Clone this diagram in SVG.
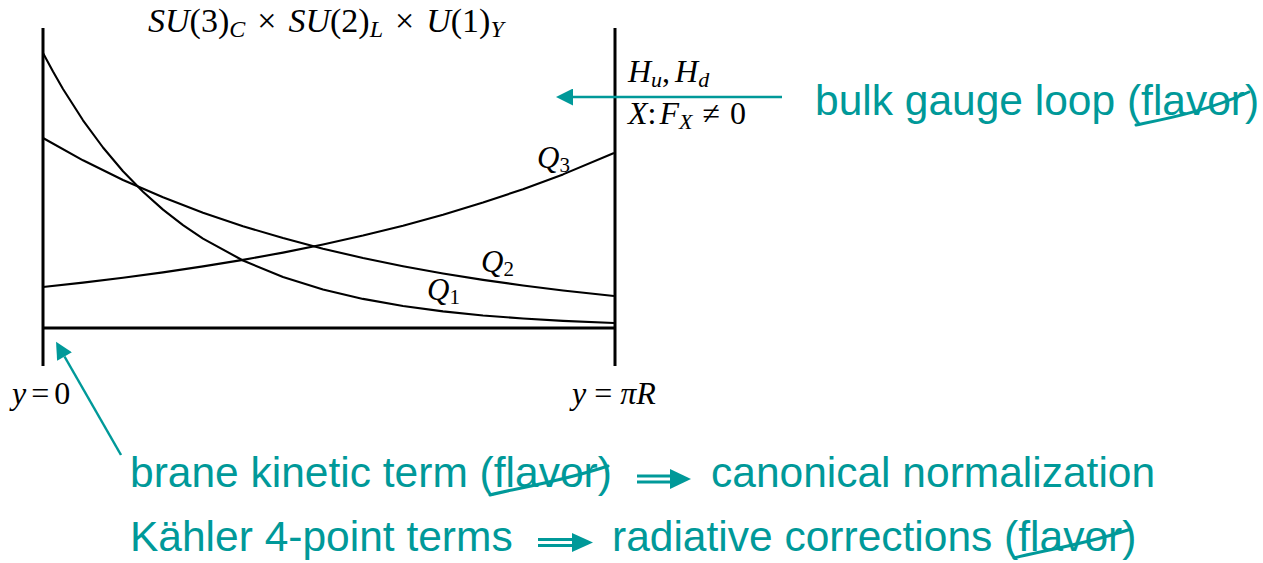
<svg xmlns="http://www.w3.org/2000/svg" width="1263" height="563" viewBox="0 0 1263 563">
<style>
.math{font-family:"Liberation Serif","DejaVu Serif",serif;font-style:italic;font-size:32px;fill:#000}
.up{font-style:normal}
.sub{font-size:22px}
.ttl{font-size:34px}
.tsub{font-size:24px}
.ql{font-size:31px}
.qs{font-size:21px;font-style:normal}
.note{font-family:"Liberation Sans",Arial,sans-serif;font-size:42.5px;fill:#009999}
.axis{stroke:#000;stroke-width:3;fill:none}
.curve{stroke:#000;stroke-width:2.1;fill:none;stroke-linejoin:round}
.conn{stroke:#009999;stroke-width:2.5;fill:none}
.strike{stroke:#009999;stroke-width:3;fill:none;stroke-linecap:round}
.dbl{stroke:#009999;stroke-width:3}
.head{fill:#009999}
</style>
<defs>
<marker id="ah" viewBox="0 0 10 10" refX="0" refY="5" markerUnits="userSpaceOnUse" markerWidth="19" markerHeight="17" orient="auto">
<path d="M0,0 L10,5 L0,10 z" fill="#009999"/>
</marker>
</defs>
<rect width="1263" height="563" fill="#fff"/>

<g id="frame">
<line class="axis" x1="43" y1="28" x2="43" y2="366"/>
<line class="axis" x1="615" y1="28" x2="615" y2="366"/>
<line class="axis" x1="43" y1="328" x2="615" y2="328"/>
</g>

<g id="curves">
<polyline id="Q1" class="curve" points="43,53 53,71.6 63,89 83,120.3 103,147.5 123,171.2 143,191.7 163,209.6 183,225.1 203,238.6 243,260.5 283,277 323,289.5 363,298.9 403,306 443,311.4 483,315.5 523,318.5 563,320.9 614,323"/>
<polyline id="Q2" class="curve" points="43,138 83,160.3 123,180 163,197.3 203,212.7 243,226.2 283,238.1 323,248.7 363,258 403,266.2 443,273.5 483,279.9 523,285.5 563,290.5 614,296"/>
<polyline id="Q3" class="curve" points="43,287 83,282.6 123,277.8 163,272.4 203,266.4 243,259.9 283,252.6 323,244.5 363,235.6 403,225.7 443,214.7 483,202.6 523,189.2 563,174.4 614,153"/>
</g>

<g id="title">
<text class="math ttl" x="148" y="32">SU<tspan class="up">(3)</tspan><tspan class="tsub" dy="5">C</tspan><tspan class="up" dy="-5" dx="12">×</tspan><tspan dx="12">SU</tspan><tspan class="up">(2)</tspan><tspan class="tsub" dy="5">L</tspan><tspan class="up" dy="-5" dx="12">×</tspan><tspan dx="12">U</tspan><tspan class="up">(1)</tspan><tspan class="tsub" dy="5">Y</tspan></text>
</g>

<g id="curve-labels">
<text class="math ql" x="537" y="168">Q<tspan class="qs" dy="4">3</tspan></text>
<text class="math ql" x="481" y="272">Q<tspan class="qs" dy="4">2</tspan></text>
<text class="math ql" x="427" y="300">Q<tspan class="qs" dy="4">1</tspan></text>
</g>

<g id="brane-labels">
<text class="math" x="12" y="404">y<tspan class="up" dx="5">=</tspan><tspan class="up" dx="5">0</tspan></text>
<text class="math" x="572" y="404">y<tspan class="up" dx="8">=</tspan><tspan dx="8">πR</tspan></text>
</g>

<g id="bulk-fields">
<text class="math" x="628" y="82">H<tspan class="sub" dy="5">u</tspan><tspan class="up" dy="-5">,</tspan><tspan dx="5">H</tspan><tspan class="sub" dy="5">d</tspan></text>
<text class="math" x="628" y="124">X<tspan class="up">:</tspan><tspan dx="3">F</tspan><tspan class="sub" dy="5">X</tspan><tspan class="up" dy="-5" dx="10">≠</tspan><tspan class="up" dx="10">0</tspan></text>
</g>

<g id="connectors">
<line class="conn" x1="782" y1="97" x2="573" y2="97" marker-end="url(#ah)"/>
<line class="conn" x1="121" y1="455" x2="64.5" y2="356.5" marker-end="url(#ah)"/>
</g>

<g id="note-bulk">
<text class="note" x="815" y="115">bulk gauge loop (flavor)</text>
<path class="strike" d="M1136,125 C1160,120 1205,112 1249,92"/>
</g>

<g id="note-brane">
<text class="note" x="130" y="487">brane kinetic term (flavor)</text>
<path class="strike" d="M490,495 C512,489 560,482 608,466"/>
<line class="dbl" x1="637" y1="476" x2="672" y2="476"/>
<line class="dbl" x1="637" y1="482" x2="672" y2="482"/>
<polygon class="head" points="670,469 691,479 670,489"/>
<text class="note" x="711" y="487">canonical normalization</text>
</g>

<g id="note-kahler">
<text class="note" x="130" y="551">Kähler 4-point terms</text>
<line class="dbl" x1="538" y1="539.5" x2="574" y2="539.5"/>
<line class="dbl" x1="538" y1="545.5" x2="574" y2="545.5"/>
<polygon class="head" points="572,533 593,542.5 572,552"/>
<text class="note" x="612" y="551">radiative corrections (flavor)</text>
<path class="strike" d="M1014,558 C1036,552 1082,545 1128,530"/>
</g>
</svg>
